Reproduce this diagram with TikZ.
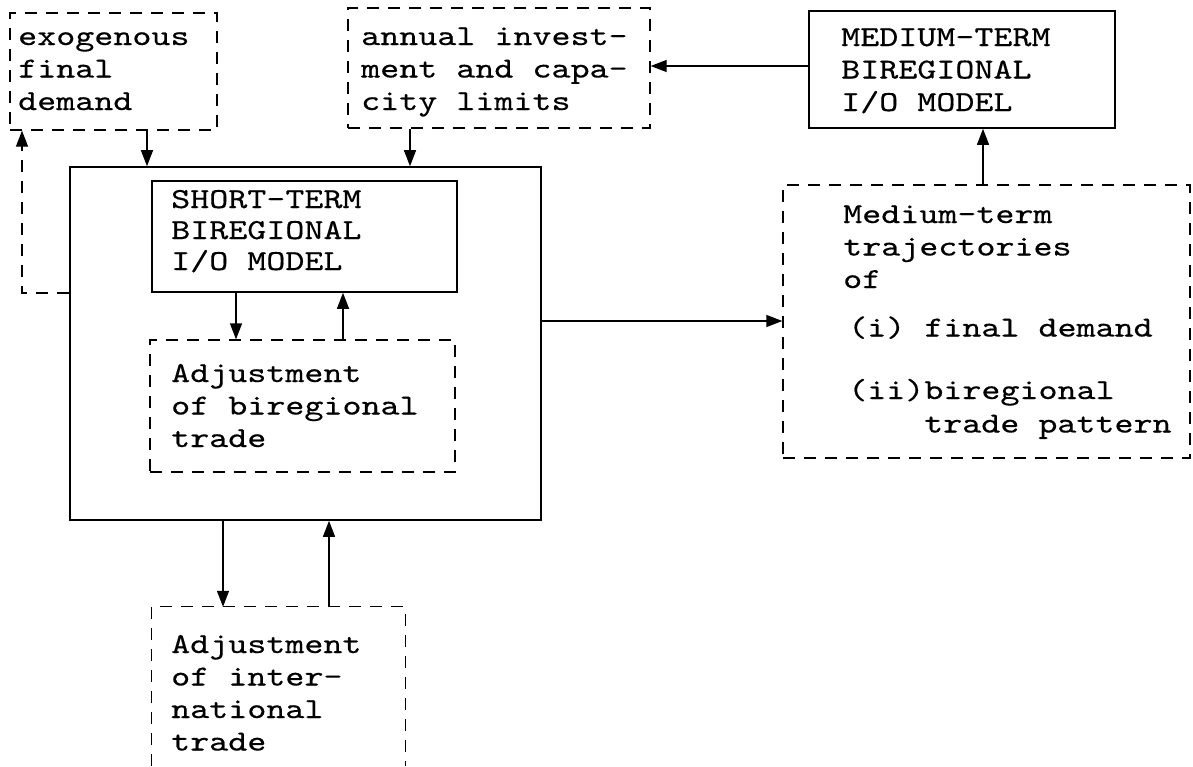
\documentclass[tikz,border=0pt]{standalone}
\usepackage{fontspec}
\newfontfamily\courfont{lmmono10-regular}[Extension=.otf, FakeStretch=1.25, FakeBold=0.4]
\usetikzlibrary{arrows.meta,fit}
\tikzset{
  dbox/.style={draw, line width=1.3pt, dash pattern=on 12pt off 9pt, inner sep=0pt},
  sbox/.style={draw, line width=1.6pt, inner sep=0pt},
  arr/.style={line width=1.3pt, -{Triangle[length=16pt,width=12pt]}},
  darr/.style={arr, dash pattern=on 12pt off 9pt},
  txt/.style={anchor=base west, inner sep=0pt, font=\courfont\fontsize{29}{32.5}\selectfont},
}
\newcommand{\tb}[1]{\parbox[t]{12cm}{\raggedright #1}}
\begin{document}
\begin{tikzpicture}[x=1pt,y=-1pt]
\useasboundingbox (0,0) rectangle (1193,766);
% boxes
\node[dbox, fit={(10,13) (217,130)}] (exo) {};
\node[dbox, fit={(348,8) (650,128)}] (annual) {};
\node[sbox, fit={(809,11) (1115,128)}] (medium) {};
\node[sbox, fit={(70,167) (541,520)}] (big) {};
\node[sbox, fit={(152,181) (457,292)}] (short) {};
\node[dbox, fit={(150,340) (455,472)}] (adjB) {};
\node[dbox, fit={(783,185) (1190,458)}] (traj) {};
\node[inner sep=0pt, fit={(152,607) (405,766)}] (adjI) {};
\draw[line width=1.3pt, dash pattern=on 12pt off 9pt]
  (adjI.south west) -- (adjI.north west) -- (adjI.north east) -- (adjI.south east);
% texts
\node[txt] (exoT) at (18,45) {\tb{exogenous\\final\\demand}};
\node[txt] (annualT) at (361,45) {\tb{annual invest-\\ment and capa-\\city limits}};
\node[txt] (mediumT) at (841,46) {\tb{MEDIUM-TERM\\BIREGIONAL\\I/O MODEL}};
\node[txt] (shortT) at (171,208) {\tb{\fontsize{29}{31}\selectfont SHORT-TERM\\BIREGIONAL\\I/O MODEL}};
\node[txt] (trajT) at (843,223) {\tb{Medium-term\\trajectories\\of\\[16pt]\hspace*{5pt}(i) final demand\\[30pt]\hspace*{5pt}(ii)biregional\\[1pt]\hspace*{81pt}trade pattern}};
\node[txt] (adjBT) at (171,382) {\tb{Adjustment\\of biregional\\trade}};
\node[txt] (adjIT) at (171,653) {\tb{Adjustment\\of inter-\\national\\trade}};
% connectors
\draw[arr] (147,0 |- exo.south) -- (147,0 |- big.north);
\draw[arr] (410,0 |- annual.south) -- (410,0 |- big.north);
\draw[arr] (medium.west |- 0,66) -- (annual.east |- 0,66);
\draw[arr] (983,0 |- traj.north) -- (983,0 |- medium.south);
\draw[arr] (big.east |- 0,321) -- (traj.west |- 0,321);
\draw[arr] (236,0 |- short.south) -- (236,0 |- adjB.north);
\draw[arr] (343,0 |- adjB.north) -- (343,0 |- short.south);
\draw[arr] (223,0 |- big.south) -- (223,0 |- adjI.north);
\draw[arr] (329,0 |- adjI.north) -- (329,0 |- big.south);
\draw[darr] (big.west |- 0,293) -- (22,293) -- (22,0 |- exo.south);
\end{tikzpicture}
\end{document}
